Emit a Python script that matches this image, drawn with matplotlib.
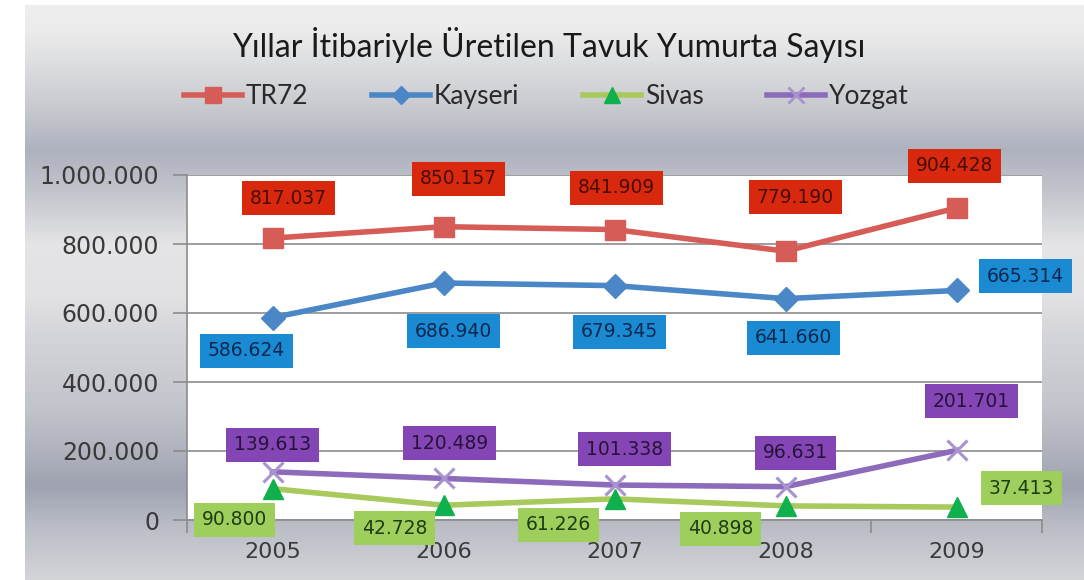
import numpy as np
import matplotlib.pyplot as plt
from matplotlib.lines import Line2D

# Yumurta üretimi (adet)
years = ["2005", "2006", "2007", "2008", "2009"]
tr72 = [817037, 850157, 841909, 779190, 904428]
kayseri = [586624, 686940, 679345, 641660, 665314]
sivas = [90800, 42728, 61226, 40898, 37413]
yozgat = [139613, 120489, 101338, 96631, 201701]

# etiket kaydırmaları (piksel)
off_tr72 = [(16, 40), (15, 48), (2, 42), (10, 54), (-2, 42)]
off_kayseri = [(-26, -33), (10, -48), (5, -46), (8, -39), (69, 14)]
off_sivas = [(-38, -31), (-49, -23), (-56, -26), (-65, -23), (65, 19)]
off_yozgat = [(0, 27), (6, 35), (10, 36), (10, 34), (15, 49)]


def tr_fmt(v):
    return f"{v:,}".replace(",", ".")


fig = plt.figure(figsize=(10.84, 5.8), dpi=100)
fig.patch.set_facecolor("white")

# gri metalik arka plan
bg = fig.add_axes([25 / 1084, 0, 1 - 25 / 1084, 1 - 5 / 580], zorder=-10)
stops_y = [0, 25, 60, 100, 145, 185, 240, 290, 330, 400, 450, 480, 520, 575]
stops_c = ["#eeeeee", "#ececec", "#dcdde0", "#c9cbd0", "#aeb2bf", "#c2c4cc",
           "#e5e5e7", "#e2e2e4", "#d4d5da", "#c3c5cc", "#aeb1bc", "#9ea2b1",
           "#babdc6", "#d4d5d9"]
rgb = np.array([[int(c[i:i + 2], 16) / 255 for i in (1, 3, 5)] for c in stops_c])
yy = np.arange(575)
grad = np.stack([np.interp(yy, stops_y, rgb[:, k]) for k in range(3)], axis=1)
bg.imshow(grad[:, None, :], aspect="auto", extent=[0, 1, 0, 1])
bg.axis("off")

ax = fig.add_axes([187 / 1084, 1 - 520 / 580, (1042 - 187) / 1084, (520 - 175) / 580])
ax.set_facecolor("white")
x = np.arange(len(years))

series = [
    ("TR72", tr72, "#d65d57", "s", 15, "#d65d57", off_tr72, "#d8290f", "#4a0c06"),
    ("Kayseri", kayseri, "#4b87c6", "D", 12, "#4b87c6", off_kayseri, "#1a8ad2", "#0b2850"),
    ("Sivas", sivas, "#a8c95c", "^", 14, "#10b04e", off_sivas, "#9ecf5c", "#203c12"),
    ("Yozgat", yozgat, "#8c6cba", "x", 14, "#a892d0", off_yozgat, "#8446b4", "#26133a"),
]

handles = []
for name, vals, lc, mk, ms, mc, offs, fc, tc in series:
    ax.plot(x, vals, color=lc, lw=4, marker=mk, ms=ms, mfc=mc, mec=mc,
            mew=2.2 if mk == "x" else 1, zorder=3)
    handles.append(Line2D([], [], color=lc, lw=4, marker=mk, ms=ms * 0.8,
                          mfc=mc, mec=mc, mew=2.0 if mk == "x" else 1))
    for xi, v, (dx, dy) in zip(x, vals, offs):
        ax.annotate(tr_fmt(v), (xi, v), xytext=(dx, dy), textcoords="offset pixels",
                    ha="center", va="center", fontsize=13.5, color=tc,
                    family="DejaVu Sans", zorder=5, annotation_clip=False,
                    bbox=dict(boxstyle="square,pad=0.4", fc=fc, ec="none"))

ax.set_xlim(-0.5, len(years) - 0.5)
ax.set_ylim(0, 1000000)
yt = np.arange(0, 1000001, 200000)
ax.set_yticks(yt)
ax.set_yticklabels([tr_fmt(v) for v in yt])
ax.set_xticks(x)
ax.set_xticklabels(years)
ax.set_xticks(np.arange(-0.5, len(years), 1), minor=True)
ax.grid(axis="y", color="#8c8c8c", lw=1.2, zorder=0)
ax.set_axisbelow(True)
for s in ("top", "right"):
    ax.spines[s].set_visible(False)
for s in ("left", "bottom"):
    ax.spines[s].set_color("#8c8c8c")
    ax.spines[s].set_linewidth(1.2)
ax.tick_params(axis="y", length=10, width=1.2, color="#8c8c8c", pad=10,
               labelsize=17, labelcolor="#3a3a3a")
ax.tick_params(axis="x", which="major", length=0, pad=16, labelsize=16,
               labelcolor="#3a3a3a")
ax.tick_params(axis="x", which="minor", length=9, width=1.2, color="#8c8c8c")

fig.text(0.506, 0.922, "Yıllar İtibariyle Üretilen Tavuk Yumurta Sayısı",
         ha="center", va="center", fontsize=23, family="Lato", color="#1a1a1a")

fig.legend(handles, [s[0] for s in series], loc="center", ncol=4,
           bbox_to_anchor=(0.504, 0.834), frameon=False, handlelength=2.2,
           columnspacing=2.4, handletextpad=0.15,
           prop={"family": "Lato", "size": 19}, labelcolor="#2a2a2a")

fig.savefig("out.png", dpi=100)
